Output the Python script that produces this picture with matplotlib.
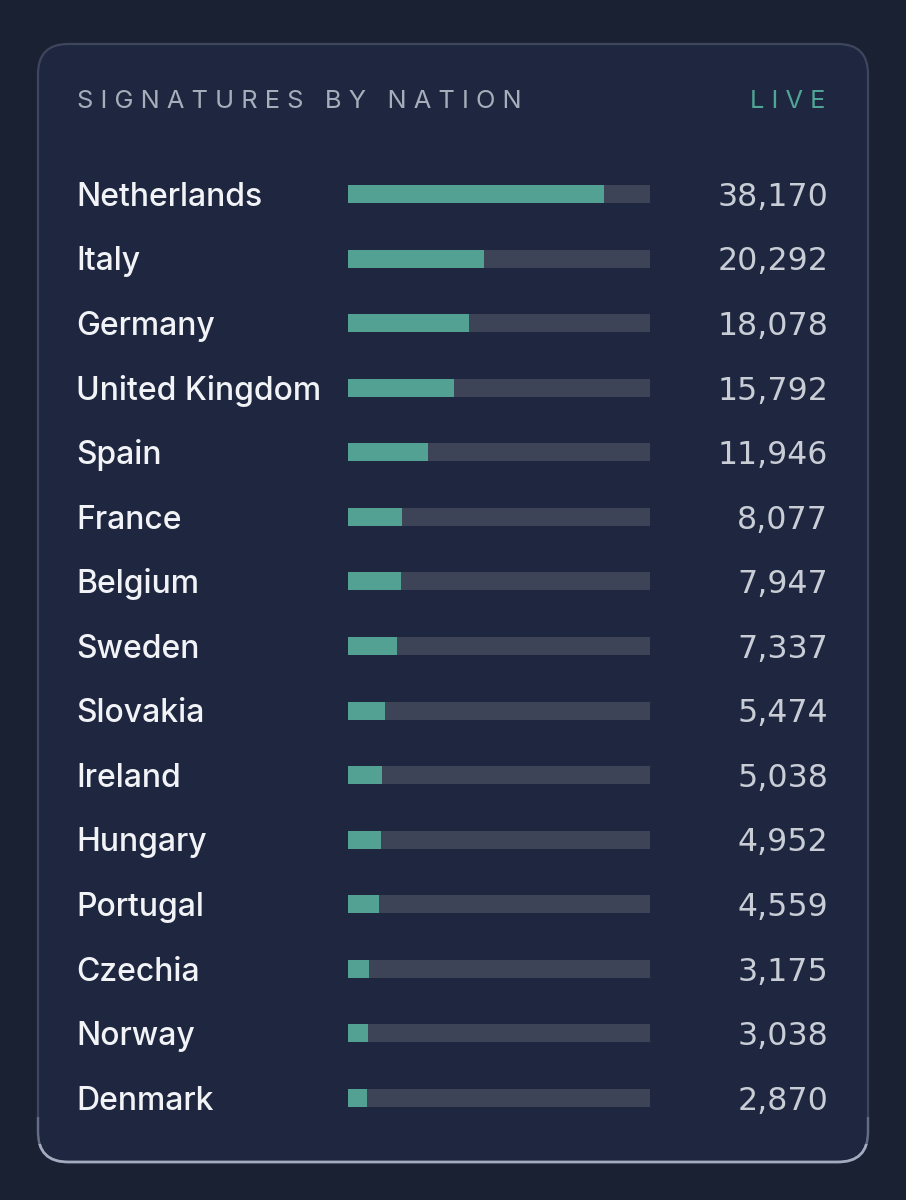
import matplotlib
matplotlib.use("Agg")
import matplotlib.pyplot as plt
import matplotlib.transforms as mtransforms
from matplotlib.patches import FancyBboxPatch, Rectangle

# ---- data ----
countries = ["Netherlands", "Italy", "Germany", "United Kingdom", "Spain", "France",
             "Belgium", "Sweden", "Slovakia", "Ireland", "Hungary", "Portugal",
             "Czechia", "Norway", "Denmark"]
signatures = [38170, 20292, 18078, 15792, 11946, 8077, 7947, 7337, 5474, 5038,
              4952, 4559, 3175, 3038, 2870]
scale_max = 45000
title = "SIGNATURES BY NATION"
badge = "LIVE"

# ---- style ----
BG = "#1a2133"
CARD = "#1f2740"
BORDER = "#3d465c"
BORDER_MID = "#646d84"
BORDER_BOTTOM = "#a2abbf"
TEAL = "#52a193"
TRACK = "#3e4457"
NAME_C = "#f1f3f6"
NUM_C = "#c9cdd6"
HEAD_C = "#a7aebb"
LIVE_C = "#4fa596"
FONT = ["Inter", "DejaVu Sans"]
NUM_FONT = ["DejaVu Sans"]

W, H = 906, 1200
fig = plt.figure(figsize=(W / 100, H / 100), dpi=100, facecolor=BG)

# background axes in pixel coordinates
bg = fig.add_axes([0, 0, 1, 1])
bg.set_xlim(0, W)
bg.set_ylim(H, 0)
bg.axis("off")
bg.set_facecolor(BG)

cx0, cy0, cx1, cy1 = 38, 44, 868, 1162
r = 30


def card_patch(fc, ec, lw, z):
    return FancyBboxPatch((cx0 + r, cy0 + r), (cx1 - cx0) - 2 * r, (cy1 - cy0) - 2 * r,
                          boxstyle=f"round,pad={r}", facecolor=fc, edgecolor=ec,
                          linewidth=lw, zorder=z)


bg.add_patch(card_patch(CARD, BORDER, 1.6, 1))
mid = card_patch("none", BORDER_MID, 1.7, 2)
bg.add_patch(mid)
mid.set_clip_path(Rectangle((0, cy1 - 45), W, 60, transform=bg.transData))
hi = card_patch("none", BORDER_BOTTOM, 1.9, 3)
bg.add_patch(hi)
hi.set_clip_path(Rectangle((0, cy1 - 18), W, 40, transform=bg.transData))

# header
spaced_title = "   ".join(" ".join(w) for w in title.split(" "))
bg.text(77, 108.5, spaced_title, color=HEAD_C, fontsize=18.3, family=FONT,
        ha="left", va="baseline", zorder=4)
bg.text(825, 108.5, " ".join(badge), color=LIVE_C, fontsize=18.3, family=FONT,
        ha="right", va="baseline", zorder=4)

# bar axes
row_top, row_h = 194, 64.57
n = len(countries)
top_px = row_top - row_h / 2
bot_px = top_px + row_h * n
ax = fig.add_axes([348 / W, 1 - bot_px / H, 302 / W, (bot_px - top_px) / H])
ax.set_xlim(0, scale_max)
ax.set_ylim(n - 0.5, -0.5)
ax.axis("off")
ax.patch.set_alpha(0)

ypos = list(range(n))
bh = 18 / row_h
ax.barh(ypos, [scale_max] * n, height=bh, color=TRACK, zorder=1)
ax.barh(ypos, signatures, height=bh, color=TEAL, zorder=2)

trans = mtransforms.blended_transform_factory(bg.transData, ax.transData)
trans = mtransforms.offset_copy(trans, fig=fig, x=0, y=-11.8, units="dots")
for i, (c, v) in enumerate(zip(countries, signatures)):
    ax.text(76, i, c, transform=trans, color=NAME_C, fontsize=23, family=FONT,
            fontweight="medium", ha="left", va="baseline", clip_on=False)
    ax.text(828, i, f"{v:,}", transform=trans, color=NUM_C, fontsize=22.8,
            family=NUM_FONT, ha="right", va="baseline", clip_on=False)

fig.savefig("out.png", dpi=100, facecolor=BG)
